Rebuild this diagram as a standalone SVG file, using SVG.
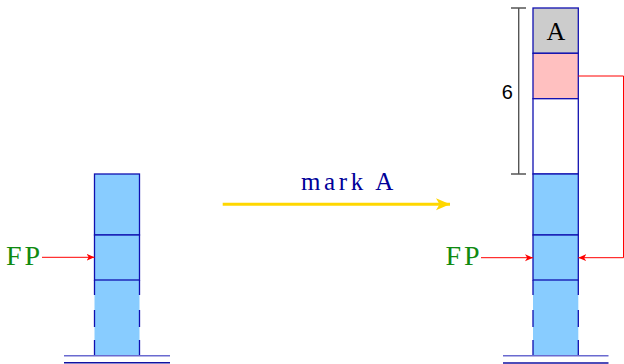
<svg xmlns="http://www.w3.org/2000/svg" width="624" height="364" viewBox="0 0 624 364">
<style>
.cell{stroke:#1010b0;stroke-width:1.3}
.blue{fill:#88ccff}
.grey{fill:#cccccc}
.pink{fill:#ffc0c0}
.white{fill:#ffffff}
.side{stroke:#1010b0;stroke-width:1.3;fill:none}
.g1{stroke:#6a6ad0;stroke-width:1.5}
.g2{stroke:#1010a0;stroke-width:1.5}
.fp{font-family:"Liberation Serif",serif;font-size:28px;letter-spacing:3px;fill:#108a10}
.red{stroke:#ff0000;stroke-width:1;fill:none}
.dim{stroke:#555555;stroke-width:1.4;fill:none}
</style>
<defs>
<marker id="ra" markerWidth="10" markerHeight="8" refX="8" refY="4" orient="auto" markerUnits="userSpaceOnUse">
<path d="M0,0.5 L8,4 L0,7.5 L2.2,4 Z" fill="#ff0000"/>
</marker>
<marker id="ya" markerWidth="16" markerHeight="14" refX="14" refY="7" orient="auto" markerUnits="userSpaceOnUse">
<path d="M0,1 L14,7 L0,13 L3.5,7 Z" fill="#ffd700"/>
</marker>
</defs>

<g id="left-stack">
<rect class="blue" x="94.5" y="280" width="45" height="75.7"/>
<path class="side" d="M94.5,280 V356 M139.5,280 V356" stroke-dasharray="15 15 17 13 16 10"/>
<rect class="cell blue" x="94.5" y="174" width="45" height="61"/>
<rect class="cell blue" x="94.5" y="235" width="45" height="45"/>
<line class="g1" x1="64" y1="355.7" x2="170" y2="355.7"/>
<line class="g2" x1="64" y1="362.7" x2="170" y2="362.7"/>
</g>

<g id="right-stack">
<rect class="blue" x="533" y="280" width="45.3" height="75.7"/>
<path class="side" d="M533,280 V356 M578.3,280 V356" stroke-dasharray="15 15 17 13 16 10"/>
<rect class="cell grey" x="533" y="8" width="45.3" height="45.3"/>
<rect class="cell pink" x="533" y="53.3" width="45.3" height="45.4"/>
<rect class="cell white" x="533" y="98.7" width="45.3" height="75.3"/>
<rect class="cell blue" x="533" y="174" width="45.3" height="61"/>
<rect class="cell blue" x="533" y="235" width="45.3" height="45"/>
<text x="555.8" y="40" text-anchor="middle" font-family="Liberation Serif, serif" font-size="26" fill="#000000">A</text>
<line class="g1" x1="503" y1="355.7" x2="608.5" y2="355.7"/>
<line class="g2" x1="503" y1="363" x2="608.5" y2="363"/>
</g>

<g id="fp-left"><text class="fp" x="6" y="264.5">FP</text></g>
<g id="fp-right"><text class="fp" x="445.5" y="264.5">FP</text></g>

<g id="dimension">
<path class="dim" d="M518.7,8 V174 M511,8 H526 M511,174 H526"/>
<text x="507.2" y="99" text-anchor="middle" font-family="Liberation Sans, Arial, sans-serif" font-size="20" fill="#000000">6</text>
</g>

<g id="transition-label">
<text x="301" y="189.5" font-family="Liberation Serif, serif" font-size="25" letter-spacing="3.6" fill="#000099">mark A</text>
</g>

<g id="connectors">
<line x1="222.7" y1="204.3" x2="450" y2="204.3" stroke="#ffd700" stroke-width="3" marker-end="url(#ya)"/>
<line class="red" x1="42" y1="257.3" x2="94.5" y2="257.3" marker-end="url(#ra)"/>
<line class="red" x1="481" y1="257.7" x2="533" y2="257.7" marker-end="url(#ra)"/>
<path class="red" d="M578.3,76 H623.5 V257.7 H578.3" marker-end="url(#ra)"/>
</g>
</svg>
